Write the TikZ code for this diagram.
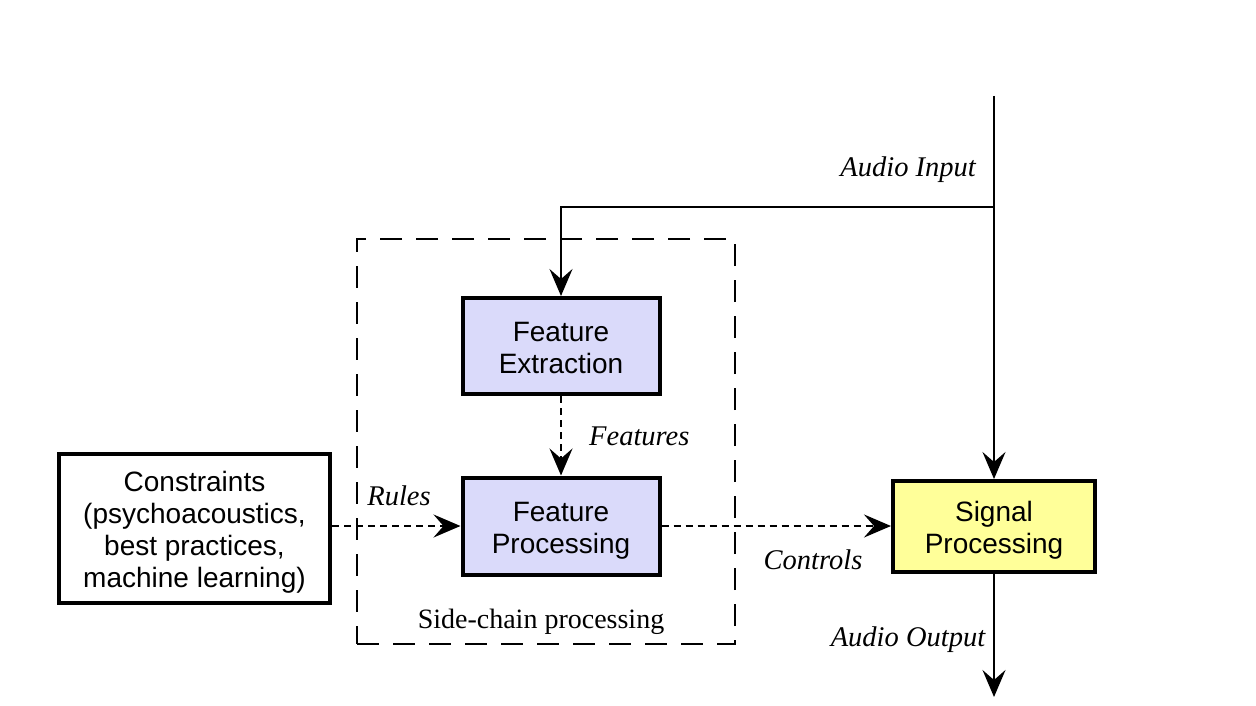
\documentclass[tikz,border=0pt]{standalone}
\usepackage{fontspec}
\setmainfont{Liberation Serif}
\newfontfamily\boxfont{Liberation Sans}
\usetikzlibrary{arrows.meta}
\definecolor{lav}{RGB}{218,218,250}
\definecolor{yel}{RGB}{255,255,153}
\newcommand\bxt[1]{\raisebox{-5pt}[\height][\depth]{\begin{tabular}{@{}c@{}}#1\end{tabular}}}
\begin{document}
\begin{tikzpicture}[x=1pt,y=-1pt,
  blk/.style={draw=black,line width=4pt,inner sep=0pt,
    font=\boxfont\fontsize{28}{32}\selectfont},
  lbl/.style={font=\itshape\fontsize{28.5}{32}\selectfont,inner sep=0pt},
  tip/.style={-{Stealth[length=27pt,width=23pt,inset=10pt]}},
  conn/.style={line width=2pt,tip},
  dots/.style={line width=2pt,tip,dash pattern=on 7pt off 5pt}]
\useasboundingbox (0,0) rectangle (1256,706);
% side-chain frame
\node[draw,line width=2pt,dash pattern=on 22pt off 14pt,minimum width=378pt,minimum height=405pt,inner sep=0pt]
  (side) at (546,441.5) {};
\node[font=\fontsize{28}{32}\selectfont,inner sep=0pt] (sidelbl) at (541,622) {Side-chain processing};
% blocks
\node[blk,fill=lav,minimum width=197pt,minimum height=96pt] (fe) at (561,346) {\bxt{Feature\\Extraction}};
\node[blk,fill=lav,minimum width=197pt,minimum height=97pt] (fp) at (561,526) {\bxt{Feature\\Processing}};
\node[blk,fill=white,minimum width=271pt,minimum height=149pt] (con) at (194.5,528.5)
  {\bxt{Constraints\\(psychoacoustics,\\best practices,\\machine learning)}};
\node[blk,fill=yel,minimum width=202pt,minimum height=91pt] (sp) at (994,526.5) {\bxt{Signal\\Processing}};
% coordinates
\coordinate (in) at (994,96);
\coordinate (split) at (994,207);
\coordinate (corner) at (561,207);
\coordinate (out) at (994,697);
% connectors
\draw[conn] (in) -- (sp.north);
\draw[conn] (split) -- (corner) -- (fe.north);
\draw[conn] (sp.south) -- (out);
\draw[dots] (fe.south) -- (fp.north);
\draw[dots] (con.east |- fp.west) -- (fp.west);
\draw[dots] (fp.east) -- (fp.east -| sp.west);
% labels
\node[lbl,anchor=east] (lin) at (976,170) {Audio Input};
\node[lbl,anchor=west] (lfeat) at (589,436) {Features};
\node[lbl] (lrules) at (399,496) {Rules};
\node[lbl] (lctrl) at (813,560) {Controls};
\node[lbl] (lout) at (908,640) {Audio Output};
\end{tikzpicture}
\end{document}
